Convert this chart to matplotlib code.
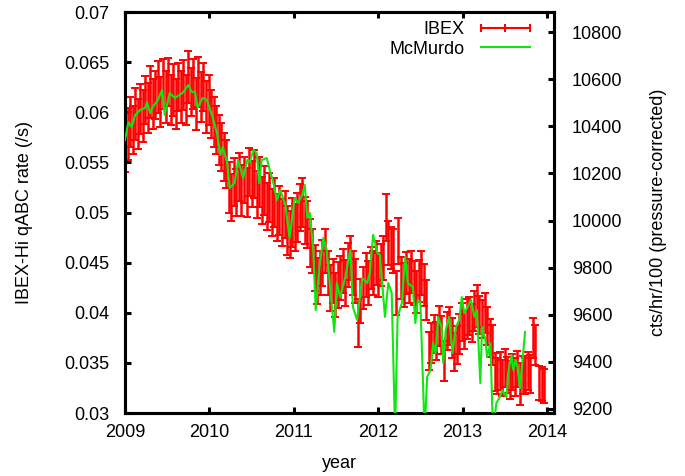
import matplotlib
matplotlib.use("Agg")
import matplotlib.pyplot as plt
from matplotlib.lines import Line2D

plt.rcParams["font.family"] = ["Liberation Sans", "DejaVu Sans"]
plt.rcParams["font.size"] = 13

# IBEX-Hi qABC rate (/s), one point per orbit
ibex_year = [
    2009.00, 2009.03, 2009.06, 2009.09, 2009.12, 2009.15, 2009.18, 2009.21, 2009.24, 2009.27,
    2009.30, 2009.33, 2009.36, 2009.39, 2009.42, 2009.45, 2009.48, 2009.51, 2009.54, 2009.57,
    2009.60, 2009.63, 2009.66, 2009.69, 2009.72, 2009.75, 2009.78, 2009.81, 2009.84, 2009.87,
    2009.90, 2009.93, 2009.96, 2009.99, 2010.02, 2010.05, 2010.08, 2010.11, 2010.14, 2010.17,
    2010.20, 2010.23, 2010.26, 2010.29, 2010.32, 2010.35, 2010.38, 2010.41, 2010.44, 2010.47,
    2010.50, 2010.53, 2010.56, 2010.59, 2010.62, 2010.65, 2010.68, 2010.71, 2010.74, 2010.77,
    2010.80, 2010.83, 2010.86, 2010.89, 2010.92, 2010.95, 2010.98, 2011.01, 2011.04, 2011.07,
    2011.10, 2011.13, 2011.16, 2011.19, 2011.22, 2011.25, 2011.28, 2011.31, 2011.34, 2011.37,
    2011.40, 2011.43, 2011.46, 2011.49, 2011.52, 2011.55, 2011.58, 2011.61, 2011.64, 2011.67,
    2011.70, 2011.73, 2011.76, 2011.79, 2011.82, 2011.85, 2011.88, 2011.91, 2011.94, 2011.97,
    2012.00, 2012.03, 2012.06, 2012.09, 2012.12, 2012.15, 2012.18, 2012.21, 2012.24, 2012.27,
    2012.30, 2012.33, 2012.36, 2012.39, 2012.42, 2012.45, 2012.48, 2012.51, 2012.54, 2012.57,
    2012.60, 2012.63, 2012.66, 2012.69, 2012.72, 2012.75, 2012.78, 2012.81, 2012.84, 2012.87,
    2012.90, 2012.93, 2012.96, 2012.99, 2013.02, 2013.05, 2013.08, 2013.11, 2013.14, 2013.17,
    2013.20, 2013.23, 2013.26, 2013.29, 2013.32, 2013.35, 2013.38, 2013.41, 2013.44, 2013.47,
    2013.50, 2013.53, 2013.56, 2013.59, 2013.62, 2013.65, 2013.68, 2013.71, 2013.74, 2013.77,
    2013.80, 2013.83, 2013.86, 2013.91, 2013.94, 2013.97,
]
ibex_rate = [
    0.0565, 0.0578, 0.0590, 0.0582, 0.0598, 0.0588, 0.0603, 0.0596, 0.0612, 0.0604,
    0.0620, 0.0608, 0.0617, 0.0625, 0.0610, 0.0628, 0.0615, 0.0630, 0.0612, 0.0622,
    0.0608, 0.0625, 0.0615, 0.0627, 0.0612, 0.0635, 0.0620, 0.0628, 0.0608, 0.0630,
    0.0615, 0.0625, 0.0605, 0.0612, 0.0598, 0.0590, 0.0582, 0.0572, 0.0565, 0.0555,
    0.0548, 0.0525, 0.0515, 0.0530, 0.0520, 0.0535, 0.0522, 0.0532, 0.0520, 0.0540,
    0.0528, 0.0538, 0.0518, 0.0530, 0.0512, 0.0522, 0.0506, 0.0515, 0.0500, 0.0510,
    0.0495, 0.0502, 0.0490, 0.0498, 0.0482, 0.0478, 0.0490, 0.0485, 0.0495, 0.0505,
    0.0510, 0.0492, 0.0488, 0.0470, 0.0462, 0.0445, 0.0432, 0.0440, 0.0450, 0.0462,
    0.0440, 0.0425, 0.0432, 0.0418, 0.0428, 0.0435, 0.0442, 0.0430, 0.0448, 0.0455,
    0.0440, 0.0432, 0.0390, 0.0412, 0.0425, 0.0438, 0.0430, 0.0445, 0.0440, 0.0450,
    0.0438, 0.0448, 0.0455, 0.0495, 0.0470, 0.0465, 0.0462, 0.0420, 0.0472, 0.0435,
    0.0428, 0.0440, 0.0432, 0.0441, 0.0430, 0.0421, 0.0432, 0.0440, 0.0428, 0.0413,
    0.0362, 0.0370, 0.0379, 0.0372, 0.0387, 0.0378, 0.0352, 0.0382, 0.0387, 0.0375,
    0.0361, 0.0368, 0.0379, 0.0391, 0.0383, 0.0394, 0.0397, 0.0390, 0.0402, 0.0407,
    0.0398, 0.0394, 0.0400, 0.0387, 0.0375, 0.0368, 0.0341, 0.0337, 0.0342, 0.0335,
    0.0345, 0.0338, 0.0333, 0.0341, 0.0336, 0.0344, 0.0329, 0.0338, 0.0337, 0.0342,
    0.0339, 0.0375, 0.0368, 0.0330, 0.0329, 0.0327,
]
ibex_err = [
    0.0025, 0.0026, 0.0025, 0.0024, 0.0026, 0.0025, 0.0025, 0.0026, 0.0024, 0.0025,
    0.0026, 0.0025, 0.0024, 0.0026, 0.0025, 0.0025, 0.0026, 0.0024, 0.0025, 0.0026,
    0.0025, 0.0024, 0.0026, 0.0025, 0.0025, 0.0026, 0.0024, 0.0025, 0.0026, 0.0025,
    0.0025, 0.0024, 0.0026, 0.0025, 0.0024, 0.0025, 0.0024, 0.0025, 0.0024, 0.0024,
    0.0024, 0.0025, 0.0023, 0.0024, 0.0023, 0.0024, 0.0025, 0.0023, 0.0024, 0.0024,
    0.0023, 0.0024, 0.0023, 0.0025, 0.0023, 0.0024, 0.0023, 0.0024, 0.0023, 0.0024,
    0.0023, 0.0024, 0.0023, 0.0023, 0.0024, 0.0023, 0.0024, 0.0023, 0.0024, 0.0023,
    0.0024, 0.0023, 0.0023, 0.0024, 0.0022, 0.0023, 0.0023, 0.0022, 0.0023, 0.0022,
    0.0022, 0.0023, 0.0022, 0.0022, 0.0023, 0.0022, 0.0022, 0.0023, 0.0022, 0.0022,
    0.0022, 0.0022, 0.0024, 0.0022, 0.0021, 0.0022, 0.0022, 0.0021, 0.0022, 0.0022,
    0.0022, 0.0021, 0.0022, 0.0023, 0.0022, 0.0021, 0.0022, 0.0022, 0.0023, 0.0021,
    0.0022, 0.0021, 0.0022, 0.0021, 0.0022, 0.0021, 0.0021, 0.0022, 0.0021, 0.0020,
    0.0019, 0.0020, 0.0019, 0.0019, 0.0020, 0.0019, 0.0020, 0.0019, 0.0019, 0.0020,
    0.0019, 0.0019, 0.0020, 0.0019, 0.0019, 0.0020, 0.0019, 0.0019, 0.0020, 0.0021,
    0.0019, 0.0019, 0.0020, 0.0019, 0.0019, 0.0020, 0.0019, 0.0018, 0.0019, 0.0018,
    0.0019, 0.0018, 0.0019, 0.0018, 0.0019, 0.0018, 0.0021, 0.0019, 0.0018, 0.0019,
    0.0019, 0.0020, 0.0020, 0.0017, 0.0017, 0.0017,
]

# McMurdo neutron monitor, cts/hr/100 (pressure-corrected)
mcm_year = [
    2009.00, 2009.04, 2009.08, 2009.12, 2009.18, 2009.24, 2009.26, 2009.30, 2009.33, 2009.39,
    2009.44, 2009.47, 2009.53, 2009.59, 2009.68, 2009.71, 2009.75, 2009.79, 2009.83, 2009.86,
    2009.92, 2009.97, 2010.03, 2010.09, 2010.13, 2010.16, 2010.21, 2010.24, 2010.30, 2010.34,
    2010.40, 2010.45, 2010.48, 2010.52, 2010.56, 2010.59, 2010.62, 2010.68, 2010.72, 2010.75,
    2010.80, 2010.84, 2010.90, 2010.95, 2011.01, 2011.05, 2011.10, 2011.13, 2011.16, 2011.19,
    2011.23, 2011.26, 2011.30, 2011.35, 2011.39, 2011.45, 2011.48, 2011.51, 2011.55, 2011.61,
    2011.67, 2011.70, 2011.75, 2011.81, 2011.87, 2011.90, 2011.94, 2011.99, 2012.02, 2012.08,
    2012.12, 2012.16, 2012.20, 2012.23, 2012.28, 2012.32, 2012.35, 2012.41, 2012.44, 2012.47,
    2012.50, 2012.55, 2012.58, 2012.62, 2012.65, 2012.68, 2012.71, 2012.75, 2012.77, 2012.80,
    2012.84, 2012.88, 2012.92, 2012.96, 2012.99, 2013.02, 2013.06, 2013.10, 2013.14, 2013.17,
    2013.21, 2013.23, 2013.27, 2013.29, 2013.33, 2013.36, 2013.40, 2013.44, 2013.47, 2013.52,
    2013.54, 2013.58, 2013.60, 2013.63, 2013.65, 2013.68, 2013.71, 2013.74,
]
mcm_rate = [
    10342, 10418, 10397, 10448, 10469, 10478, 10503, 10456, 10482, 10512,
    10554, 10448, 10541, 10520, 10541, 10554, 10575, 10546, 10546, 10478,
    10520, 10512, 10448, 10371, 10278, 10312, 10244, 10138, 10159, 10257,
    10180, 10257, 10248, 10299, 10287, 10159, 10257, 10265, 10206, 10172,
    10087, 10130, 10066, 9926, 10096, 10075, 10109, 10151, 10011, 10032,
    9875, 9620, 9790, 9926, 9875, 9641, 9527, 9735, 9675, 9760,
    9875, 9633, 9578, 9756, 9735, 9777, 9939, 9862, 9854, 9591,
    9735, 9692, 9100, 9591, 9650, 9845, 9735, 9718, 9565, 9663,
    9650, 9100, 9336, 9366, 9480, 9438, 9591, 9548, 9395, 9535,
    9591, 9438, 9548, 9578, 9675, 9607, 9633, 9663, 9591, 9620,
    9310, 9548, 9493, 9421, 9480, 9100, 9225, 9250, 9280, 9250,
    9353, 9429, 9366, 9408, 9378, 9289, 9408, 9527,
]

year_ticks = [2009, 2010, 2011, 2012, 2013, 2014]
rate_ticks = [0.03, 0.035, 0.04, 0.045, 0.05, 0.055, 0.06, 0.065, 0.07]
rate_labels = ["0.03", "0.035", "0.04", "0.045", "0.05", "0.055", "0.06", "0.065", "0.07"]
nm_ticks = [9200, 9400, 9600, 9800, 10000, 10200, 10400, 10600, 10800]

red = "#ff0000"
green = "#11e611"

fig = plt.figure(figsize=(6.85, 4.76), dpi=100)
ax = fig.add_axes([125 / 685, 1 - 413 / 476, 429 / 685, 401 / 476])
ax2 = ax.twinx()

ax.errorbar(ibex_year, ibex_rate, yerr=ibex_err, fmt="none", ecolor=red,
            elinewidth=1.8, capsize=3.0, capthick=1.4, zorder=2)
ax2.plot(mcm_year, mcm_rate, color=green, linewidth=1.5, zorder=3)

ax.set_xlim(2009, 2014.083)
ax.set_ylim(0.03, 0.07)
ax2.set_ylim(9183, 10885)

ax.set_xticks(year_ticks)
ax.set_yticks(rate_ticks)
ax.set_yticklabels(rate_labels)
ax2.set_yticks(nm_ticks)

ax.tick_params(axis="x", direction="in", top=True, length=4, width=2.2, pad=8)
ax.tick_params(axis="y", direction="in", right=False, length=4, width=2.2, pad=11)
ax2.tick_params(axis="y", direction="in", length=4, width=2.2, pad=13)
for a in (ax, ax2):
    for sp in a.spines.values():
        sp.set_linewidth(2.2)

ax.set_xlabel("year", labelpad=10)
ax.set_ylabel("IBEX-Hi qABC rate (/s)", labelpad=23)
ax2.set_ylabel("cts/hr/100 (pressure-corrected)", rotation=90, labelpad=20)

# gnuplot style key: label on the left, sample on the right
ibex_key = Line2D([], [], color=red, linewidth=1.5, marker="|", markersize=6,
                  markeredgewidth=1.5)
mcm_key = Line2D([], [], color=green, linewidth=1.5)
ax2.legend([ibex_key, mcm_key], ["IBEX", "McMurdo"], loc="upper right",
           bbox_to_anchor=(535 / 685, 1 - 21 / 476), bbox_transform=fig.transFigure,
           frameon=False, markerfirst=False, numpoints=3, handlelength=3.3,
           handletextpad=0.6, labelspacing=0.15, borderpad=0, borderaxespad=0)

fig.savefig("out.png", dpi=100)
